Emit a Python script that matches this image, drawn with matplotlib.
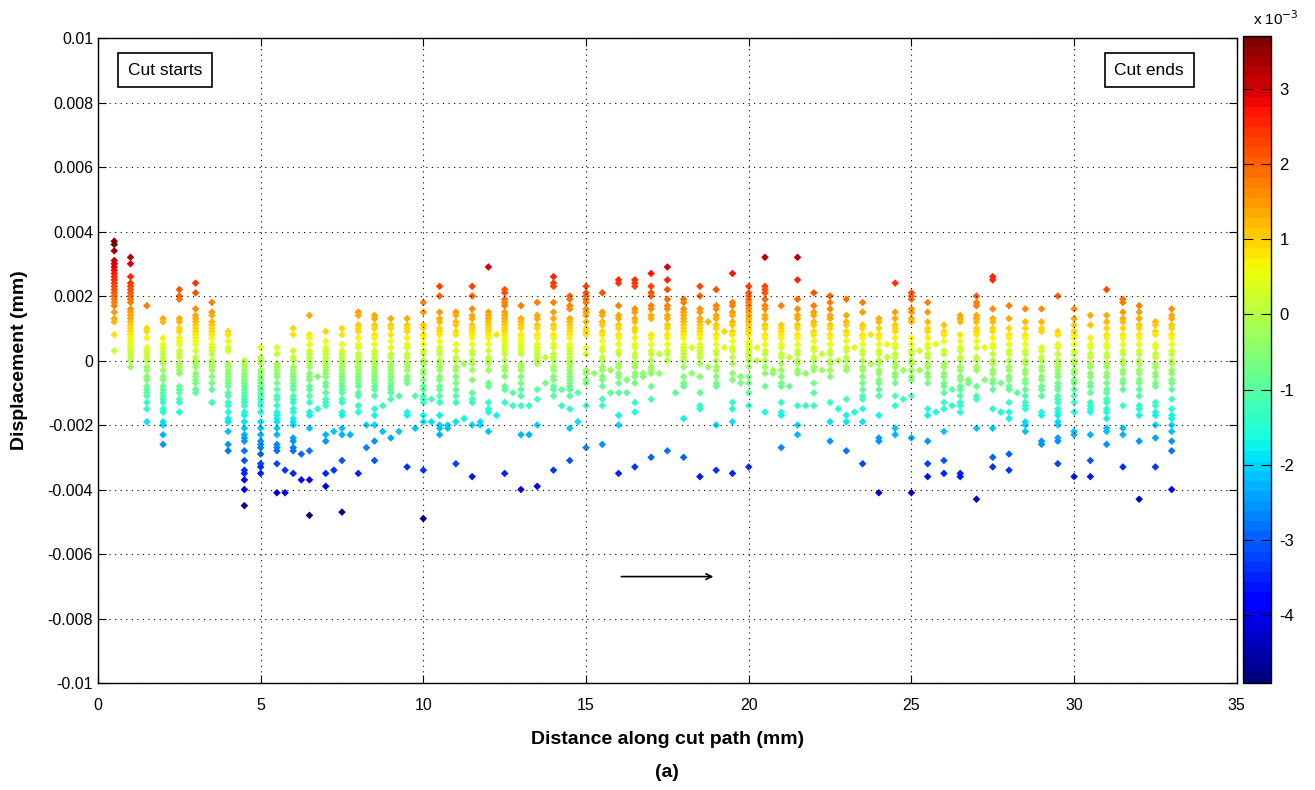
import numpy as np
import matplotlib
matplotlib.use('Agg')
import matplotlib.pyplot as plt

plt.rcParams['font.family'] = ['Liberation Sans', 'DejaVu Sans']

# displacement values per cut position, in units of 1e-4 mm
col_x = np.arange(0.5, 33.01, 0.5)
col_y = [
    [37,36,34,31,30,29,28,27,26,25,24,23,22,21,20,19,18,17,15,13,12,8,3],
    [32,30,26,24,23,22,21,20,19,18,16,15,14,13,12,11,10,9,8,7,6,5,4,3,2,1,0,-2],
    [17,10,9,7,4,3,2,1,0,-2,-3,-5,-6,-8,-9,-10,-11,-13,-15,-19],
    [13,12,7,5,4,3,2,1,0,-1,-3,-5,-6,-8,-9,-10,-11,-12,-13,-15,-16,-19,-20,-23,-26],
    [22,20,19,13,12,10,9,7,6,5,3,2,1,-1,-2,-3,-4,-8,-9,-10,-12,-13,-16],
    [24,21,16,14,13,12,11,10,9,8,7,6,5,3,1,0,-1,-2,-4,-5,-6,-7,-9,-10],
    [18,15,14,12,11,10,9,8,7,5,4,3,2,0,-1,-2,-3,-5,-7,-9,-13],
    [9,8,6,4,3,-1,-2,-3,-4,-5,-6,-7,-8,-10,-11,-13,-14,-16,-18,-19,-22,-26,-28],
    [0,-1,-2,-3,-4,-5,-6,-7,-8,-9,-10,-11,-12,-13,-14,-16,-17,-19,-21,-23,-24,-25,-28,-31,-34,-35,-37,-40,-45],
    [4,1,0,-1,-3,-4,-5,-6,-7,-8,-9,-10,-11,-12,-13,-14,-16,-19,-21,-23,-25,-26,-27,-29,-32,-33,-35],
    [4,2,-1,-2,-3,-4,-5,-7,-9,-11,-12,-14,-16,-17,-18,-19,-21,-23,-26,-27,-28,-32,-41],
    [10,8,3,1,0,-2,-3,-4,-5,-6,-7,-8,-9,-11,-12,-13,-15,-16,-18,-19,-20,-24,-25,-27,-28,-35],
    [14,8,7,5,3,2,1,0,-1,-2,-4,-5,-6,-8,-9,-11,-13,-16,-17,-21,-28,-37,-48],
    [9,6,4,3,2,1,0,-1,-2,-3,-4,-5,-7,-8,-10,-12,-13,-14,-23,-25,-35,-39],
    [10,8,5,3,2,1,0,-1,-2,-3,-4,-5,-6,-7,-8,-9,-10,-12,-13,-16,-17,-21,-23,-31,-47],
    [15,14,11,10,9,7,5,4,2,1,0,-1,-2,-3,-4,-5,-6,-7,-8,-10,-11,-14,-16,-35],
    [14,13,11,10,8,7,5,3,2,1,0,-1,-2,-3,-4,-5,-6,-7,-8,-9,-11,-15,-17,-20,-25,-31],
    [13,11,10,8,6,4,2,1,-1,-2,-3,-4,-5,-6,-7,-8,-9,-10,-12,-24],
    [13,11,10,9,7,5,4,2,1,-1,-2,-3,-5,-6,-7,-16,-17,-33],
    [18,15,11,10,8,7,5,3,2,0,-1,-3,-4,-6,-8,-9,-11,-12,-13,-17,-19,-34,-49],
    [23,20,15,13,12,10,9,8,6,4,3,2,0,-1,-2,-3,-5,-6,-8,-9,-11,-13,-17,-20,-21,-23],
    [15,14,12,11,9,8,5,3,1,0,-2,-3,-5,-7,-9,-11,-13,-19,-32],
    [23,20,16,14,13,11,10,9,8,7,5,3,2,0,-1,-3,-6,-10,-12,-13,-20,-36],
    [29,15,14,13,12,11,10,9,8,7,5,3,1,0,-1,-3,-7,-8,-13,-15,-16,-22],
    [22,21,19,18,17,15,14,13,12,11,10,9,8,7,6,5,4,3,2,0,-2,-3,-5,-8,-9,-13,-35],
    [17,13,12,11,10,8,7,6,5,4,3,2,-1,-2,-3,-5,-7,-9,-11,-14,-23,-40],
    [18,14,13,11,10,8,7,5,4,3,2,1,0,-1,-9,-12,-20,-39],
    [26,24,23,18,15,13,11,10,8,7,5,4,2,1,0,-2,-3,-5,-6,-8,-9,-11,-34],
    [20,19,17,16,13,12,11,10,9,8,7,5,4,3,2,1,0,-1,-2,-3,-4,-5,-6,-7,-8,-9,-11,-15,-21,-31],
    [23,21,20,19,18,16,15,14,12,10,9,8,4,2,-3,-4,-6,-7,-14,-27],
    [21,15,14,12,11,9,8,6,4,3,1,0,-2,-3,-5,-6,-8,-12,-14,-26],
    [25,24,17,14,13,11,10,8,7,5,3,2,-1,-2,-4,-5,-7,-10,-17,-20,-35],
    [25,24,23,16,15,13,12,10,9,7,5,4,2,1,-1,-2,-4,-5,-7,-13,-16,-33],
    [27,23,21,20,17,16,14,13,8,7,5,3,2,0,-2,-3,-4,-8,-12,-30],
    [29,25,22,19,17,16,14,13,11,10,8,7,5,3,2,0,-28],
    [19,18,16,15,14,13,12,11,10,9,8,7,5,4,3,2,1,0,-2,-5,-7,-8,-18,-30],
    [23,20,16,15,13,12,11,10,9,8,7,5,4,3,2,1,-1,-5,-10,-14,-15,-36],
    [22,17,16,14,13,11,10,8,7,5,3,2,0,-2,-3,-5,-7,-8,-20,-34],
    [27,18,17,15,14,12,11,9,8,6,4,3,1,-1,-4,-6,-13,-15,-19,-35],
    [23,21,20,19,18,17,16,15,14,13,12,11,10,9,8,6,5,4,3,2,1,0,-2,-5,-7,-10,-14,-33],
    [32,23,22,21,19,17,16,14,13,11,10,8,7,5,3,2,0,-2,-4,-8,-16],
    [17,11,10,9,8,7,5,4,2,1,-1,-3,-5,-7,-8,-13,-16,-17,-27],
    [32,25,19,16,14,13,11,10,8,7,5,3,2,0,-1,-3,-4,-14,-20,-23],
    [21,17,15,14,12,11,9,8,6,4,3,1,0,-2,-3,-7,-10,-14],
    [20,18,16,14,13,11,10,8,7,5,3,2,0,-1,-3,-5,-13,-19,-25],
    [19,14,12,11,9,8,6,4,3,1,0,-2,-3,-12,-17,-19,-28],
    [18,15,11,10,8,7,5,3,2,0,-2,-3,-5,-7,-9,-11,-12,-15,-19,-32],
    [13,12,10,8,7,5,3,2,0,-1,-3,-4,-6,-7,-9,-11,-17,-24,-25,-41],
    [24,15,13,11,10,9,7,5,4,2,1,-1,-2,-4,-5,-7,-11,-14,-21,-23],
    [21,20,19,16,15,13,12,7,5,3,2,0,-1,-3,-5,-6,-11,-24,-41],
    [18,15,12,10,9,7,5,4,2,1,-1,-2,-4,-5,-7,-15,-17,-25,-32,-36],
    [11,9,8,6,3,2,-1,-2,-4,-5,-7,-8,-10,-13,-15,-22,-31,-35],
    [14,13,12,8,6,4,3,1,0,-2,-3,-5,-6,-8,-9,-11,-13,-14,-16,-35,-36],
    [20,18,17,14,13,12,10,9,8,6,4,1,0,-2,-3,-8,-11,-12,-21,-43],
    [26,25,16,13,12,10,9,7,5,4,2,0,-1,-3,-4,-6,-7,-9,-15,-21,-30,-33],
    [17,13,10,8,7,5,3,2,0,-2,-3,-5,-6,-8,-9,-13,-16,-18,-29,-34],
    [16,12,10,8,7,5,3,2,0,-1,-3,-4,-6,-7,-9,-11,-13,-14,-15,-19,-20,-22],
    [16,12,10,9,4,3,1,0,-2,-3,-5,-6,-8,-9,-11,-16,-17,-25,-26],
    [20,9,8,5,4,2,0,-1,-2,-3,-4,-5,-7,-8,-9,-11,-12,-13,-15,-16,-17,-19,-20,-24,-25,-32],
    [16,13,11,9,8,7,5,3,2,0,-1,-3,-4,-6,-7,-9,-11,-13,-16,-22,-23,-36],
    [14,11,7,5,4,2,1,-1,-2,-4,-5,-7,-8,-10,-13,-14,-15,-16,-23,-31,-36],
    [22,14,12,10,8,7,5,4,2,1,-1,-2,-4,-5,-7,-9,-10,-12,-13,-15,-16,-18,-21,-22,-26],
    [19,18,15,13,12,10,8,7,5,3,2,0,-1,-3,-4,-6,-7,-9,-14,-21,-23,-33],
    [17,15,13,11,10,8,7,5,3,2,0,-1,-3,-4,-6,-7,-9,-11,-14,-15,-17,-25,-43],
    [12,11,9,8,5,4,2,1,-1,-2,-4,-5,-7,-8,-13,-14,-16,-17,-20,-24,-33],
    [16,14,13,11,10,8,7,5,3,2,0,-1,-3,-4,-6,-7,-9,-12,-15,-17,-18,-20,-22,-25,-28,-40],
]

# stray points between the main columns
mid_x = [5.75,5.75,6.25,6.25,6.75,6.75,7.25,7.25,7.75,8.25,8.25,8.75,8.75,
         9.25,9.25,9.75,9.75,10.25,10.25,10.75,10.75,11.25,11.25,11.75,11.75,
         12.25,12.25,12.75,12.75,13.25,13.25,13.75,13.75,14.25,14.25,14.75,14.75,
         15.25,15.75,15.75,16.25,16.25,16.75,16.75,17.25,17.25,17.75,18.25,18.25,
         18.75,18.75,19.25,19.25,19.75,19.75,20.25,20.25,20.75,20.75,21.25,21.25,
         21.75,21.75,22.25,22.25,22.75,22.75,23.25,23.25,23.75,23.75,24.25,24.25,
         24.75,24.75,25.25,25.25,25.75,25.75,26.25,26.25,26.75,26.75,27.25,27.25,
         27.75,27.75,28.25]
mid_y = [-34,-41,-29,-37,-5,-15,-22,-34,-23,-20,-27,-14,-22,
         -11,-22,-11,-21,-12,-19,-20,-21,-1,-18,-19,-20,
         8,-17,-10,-14,-14,-23,1,-7,-9,-14,-10,-19,
         -4,-3,-10,-6,-10,-4,-5,2,-4,-10,4,-4,
         12,-2,9,4,-5,-7,4,0,-3,-4,1,-8,
         -4,-14,2,-3,0,-15,4,-16,8,-1,5,1,
         -3,-12,3,-3,5,-16,-9,-14,-6,-7,4,-6,
         -7,-16,-10]

xs = np.concatenate([np.full(len(c), x) for x, c in zip(col_x, col_y)] + [np.array(mid_x)])
ys = np.concatenate([np.array(c) for c in col_y] + [np.array(mid_y)]) * 1e-4

fig = plt.figure(figsize=(13.15, 7.9), dpi=100)
ax = fig.add_axes([0.0745, 0.1354, 0.866, 0.8165])
cax = fig.add_axes([0.9452, 0.1354, 0.0213, 0.819])

sc = ax.scatter(xs, ys, c=ys, cmap=plt.get_cmap('jet', 64), s=15, marker='D', linewidths=0)

ax.set_xlim(0, 35)
ax.set_ylim(-0.01, 0.01)
ax.set_xticks(range(0, 36, 5))
ax.set_yticks(np.linspace(-0.01, 0.01, 11))
ax.set_yticklabels(['-0.01', '-0.008', '-0.006', '-0.004', '-0.002', '0',
                    '0.002', '0.004', '0.006', '0.008', '0.01'])
ax.grid(True, color='black', linestyle=(0, (1, 4)), linewidth=0.8)
ax.tick_params(direction='in', length=6, labelsize=11.5, top=True, right=True)
ax.tick_params(axis='x', pad=11)
for s in ax.spines.values():
    s.set_linewidth(1.0)
ax.set_xlabel('Distance along cut path (mm)', fontsize=14, fontweight='bold', labelpad=13)
ax.set_ylabel('Displacement (mm)', fontsize=14, fontweight='bold', labelpad=14)

box = dict(boxstyle='square,pad=0.55', facecolor='white', edgecolor='black', linewidth=1.2)
ax.text(0.92, 0.009, 'Cut starts', fontsize=12.5, va='center', ha='left', bbox=box)
ax.text(31.24, 0.009, 'Cut ends', fontsize=12.5, va='center', ha='left', bbox=box)
ax.annotate('', xy=(19.0, -0.0067), xytext=(16.0, -0.0067),
            arrowprops=dict(arrowstyle='->', color='black', lw=1.2))

cb = fig.colorbar(sc, cax=cax)
ticks = np.arange(-4, 4) * 1e-3
cb.set_ticks(ticks)
cb.set_ticklabels([str(t) for t in range(-4, 4)])
cb.ax.tick_params(direction='in', length=7, labelsize=12, left=True, right=True, pad=6)
cb.outline.set_linewidth(1.0)
fig.text(0.970, 0.968, r'x 10$^{-3}$', fontsize=11, ha='center')

fig.text(0.507, 0.016, '(a)', fontsize=14, fontweight='bold', ha='center')

plt.savefig('out.png', dpi=100)
